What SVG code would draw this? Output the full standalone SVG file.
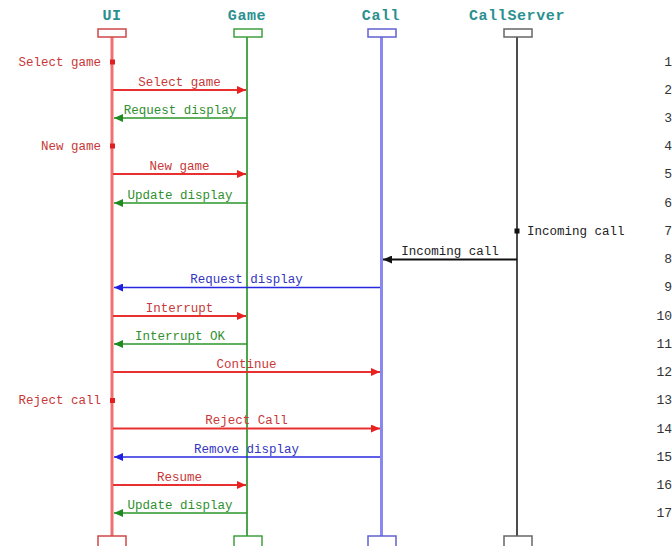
<svg xmlns="http://www.w3.org/2000/svg" width="672" height="546" viewBox="0 0 672 546">
<style>
.title{font-family:"Liberation Mono","DejaVu Sans Mono",monospace;font-weight:bold;font-size:15px;fill:#2a9090;text-anchor:middle;letter-spacing:0.6px}
.lbl{font-family:"Liberation Mono","DejaVu Sans Mono",monospace;font-size:12.5px;text-anchor:middle}
.act{font-family:"Liberation Mono","DejaVu Sans Mono",monospace;font-size:12.5px}
.num{font-family:"Liberation Mono","DejaVu Sans Mono",monospace;font-size:13px;fill:#333;text-anchor:end}
.r{fill:#c83838}.g{fill:#2f8f2f}.b{fill:#3535c0}.k{fill:#222}
.box{fill:#fff;stroke-width:1.5}
.mr{stroke:#e83030;stroke-width:2;fill:none;marker-end:url(#ar)}
.mg{stroke:#2a962a;stroke-width:1.6;fill:none;marker-end:url(#ag)}
.mb{stroke:#2828e0;stroke-width:1.6;fill:none;marker-end:url(#ab)}
.mk{stroke:#111;stroke-width:2;fill:none;marker-end:url(#ak)}
</style>
<defs>
<marker id="ar" markerUnits="userSpaceOnUse" markerWidth="10" markerHeight="8" refX="9" refY="4" orient="auto"><path d="M0,0 L9,4 L0,8 z" fill="#e82020"/></marker>
<marker id="ag" markerUnits="userSpaceOnUse" markerWidth="10" markerHeight="8" refX="9" refY="4" orient="auto"><path d="M0,0 L9,4 L0,8 z" fill="#1f8a1f"/></marker>
<marker id="ab" markerUnits="userSpaceOnUse" markerWidth="10" markerHeight="8" refX="9" refY="4" orient="auto"><path d="M0,0 L9,4 L0,8 z" fill="#2020e0"/></marker>
<marker id="ak" markerUnits="userSpaceOnUse" markerWidth="10" markerHeight="8" refX="9" refY="4" orient="auto"><path d="M0,0 L9,4 L0,8 z" fill="#111"/></marker>
</defs>
<rect width="672" height="546" fill="#fff"/>

<g id="UI">
<text class="title" x="112" y="20">UI</text>
<line x1="112" y1="37" x2="112" y2="536" stroke="#f07070" stroke-width="3"/>
<rect class="box" x="98" y="29" width="28" height="8" stroke="#d04848"/>
<rect class="box" x="98" y="536" width="28" height="12" stroke="#d04848"/>
</g>
<g id="Game">
<text class="title" x="247" y="20">Game</text>
<line x1="247" y1="37" x2="247" y2="536" stroke="#209020" stroke-width="1.6"/>
<rect class="box" x="234" y="29" width="28" height="8" stroke="#40a040"/>
<rect class="box" x="234" y="536" width="28" height="12" stroke="#40a040"/>
</g>
<g id="Call">
<text class="title" x="381" y="20">Call</text>
<line x1="381.5" y1="37" x2="381.5" y2="536" stroke="#8888f0" stroke-width="3"/>
<rect class="box" x="368" y="29" width="28" height="8" stroke="#6060d0"/>
<rect class="box" x="368" y="536" width="28" height="12" stroke="#6060d0"/>
</g>
<g id="CallServer">
<text class="title" x="517" y="20">CallServer</text>
<line x1="517" y1="37" x2="517" y2="536" stroke="#202020" stroke-width="1.6"/>
<rect class="box" x="504" y="29" width="28" height="8" stroke="#666"/>
<rect class="box" x="504" y="536" width="28" height="12" stroke="#666"/>
</g>

<g id="actions">
<rect x="110" y="59.5" width="5" height="5" fill="#e02020"/>
<text class="act r" x="101" y="66" text-anchor="end">Select game</text>
<rect x="110" y="143.5" width="5" height="5" fill="#e02020"/>
<text class="act r" x="101" y="150" text-anchor="end">New game</text>
<rect x="514.5" y="228.5" width="5" height="5" fill="#111"/>
<text class="act k" x="527" y="235">Incoming call</text>
<rect x="110" y="398" width="5" height="5" fill="#e02020"/>
<text class="act r" x="101" y="404" text-anchor="end">Reject call</text>
</g>

<g id="connectors">
<line class="mr" x1="113" y1="90" x2="246" y2="90"/>
<text class="lbl r" x="179.5" y="85.5">Select game</text>
<line class="mg" x1="247" y1="118" x2="114" y2="118"/>
<text class="lbl g" x="180" y="113.5">Request display</text>
<line class="mr" x1="113" y1="174" x2="246" y2="174"/>
<text class="lbl r" x="179.5" y="169.5">New game</text>
<line class="mg" x1="247" y1="203" x2="114" y2="203"/>
<text class="lbl g" x="180" y="198.5">Update display</text>
<line class="mk" x1="517" y1="259.5" x2="383" y2="259.5"/>
<text class="lbl k" x="450" y="254.5">Incoming call</text>
<line class="mb" x1="380" y1="287.5" x2="114" y2="287.5"/>
<text class="lbl b" x="246.5" y="283">Request display</text>
<line class="mr" x1="113" y1="316" x2="246" y2="316"/>
<text class="lbl r" x="179.5" y="311.5">Interrupt</text>
<line class="mg" x1="247" y1="344" x2="114" y2="344"/>
<text class="lbl g" x="180" y="339.5">Interrupt OK</text>
<line class="mr" x1="113" y1="372" x2="380" y2="372"/>
<text class="lbl r" x="246.5" y="367.5">Continue</text>
<line class="mr" x1="113" y1="428.5" x2="380" y2="428.5"/>
<text class="lbl r" x="246.5" y="424">Reject Call</text>
<line class="mb" x1="380" y1="457" x2="114" y2="457"/>
<text class="lbl b" x="246.5" y="452.5">Remove display</text>
<line class="mr" x1="113" y1="485" x2="246" y2="485"/>
<text class="lbl r" x="179.5" y="480.5">Resume</text>
<line class="mg" x1="247" y1="513" x2="114" y2="513"/>
<text class="lbl g" x="180" y="508.5">Update display</text>
</g>

<g id="numbers">
<text class="num" x="672" y="66">1</text>
<text class="num" x="672" y="94">2</text>
<text class="num" x="672" y="122">3</text>
<text class="num" x="672" y="150">4</text>
<text class="num" x="672" y="178">5</text>
<text class="num" x="672" y="207">6</text>
<text class="num" x="672" y="235">7</text>
<text class="num" x="672" y="263">8</text>
<text class="num" x="672" y="291">9</text>
<text class="num" x="672" y="320">10</text>
<text class="num" x="672" y="348">11</text>
<text class="num" x="672" y="376">12</text>
<text class="num" x="672" y="404">13</text>
<text class="num" x="672" y="433">14</text>
<text class="num" x="672" y="461">15</text>
<text class="num" x="672" y="489">16</text>
<text class="num" x="672" y="517">17</text>
</g>
</svg>
